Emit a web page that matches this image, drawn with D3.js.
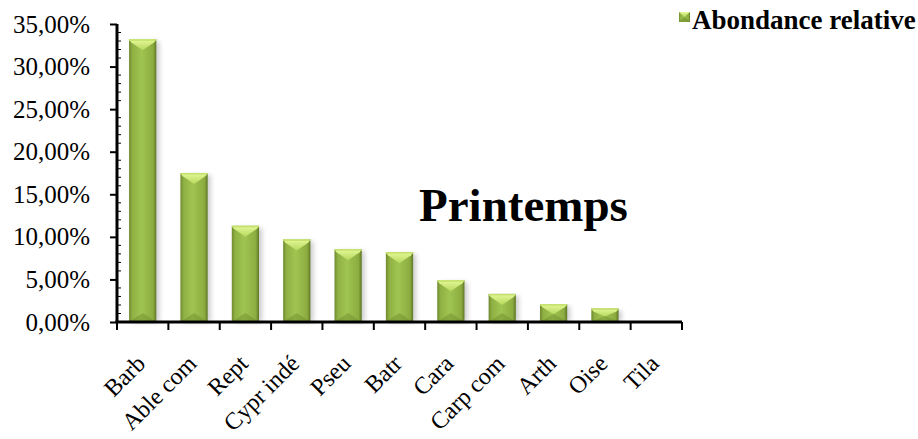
<!DOCTYPE html>
<html lang="fr">
<head>
<meta charset="UTF-8">
<title>Printemps - Abondance relative</title>
<style>
    body { margin: 0; background: #fff; overflow: hidden; }
    svg { display: block; }
    text { font-family: "Liberation Serif", "Times New Roman", serif; fill: #000; }
</style>
<script src="https://d3js.org/d3.v7.min.js"></script>
</head>
<body>
<svg></svg>
<script>
    const width = 918;
    const height = 439;

    // data
    const categories = ["Barb", "Able com", "Rept", "Cypr indé", "Pseu", "Batr", "Cara", "Carp com", "Arth", "Oise", "Tila"];
    const abondance = [33.2, 17.5, 11.3, 9.7, 8.55, 8.2, 4.9, 3.3, 2.1, 1.6, 0];
    const yTicks = [0, 5, 10, 15, 20, 25, 30, 35];
    const seriesName = "Abondance relative";
    const title = "Printemps";

    const margin = { top: 24, right: 236, bottom: 117, left: 117 };
    const innerW = width - margin.left - margin.right;
    const innerH = height - margin.top - margin.bottom;
    const serif = "'Liberation Serif', 'Times New Roman', serif";

    const svg = d3.select("svg")
        .attr("width", width)
        .attr("height", height);

    const defs = svg.append("defs");

    // horizontal shading of the bar body
    const body = defs.append("linearGradient").attr("id", "barBody")
        .attr("x1", "0%").attr("x2", "100%").attr("y1", "0%").attr("y2", "0%");
    body.append("stop").attr("offset", "0%").attr("stop-color", "#6f8a2f");
    body.append("stop").attr("offset", "12%").attr("stop-color", "#8fb043");
    body.append("stop").attr("offset", "45%").attr("stop-color", "#a0c452");
    body.append("stop").attr("offset", "88%").attr("stop-color", "#8cac40");
    body.append("stop").attr("offset", "100%").attr("stop-color", "#5f7826");

    const topBevel = defs.append("linearGradient").attr("id", "barTop")
        .attr("x1", "0%").attr("x2", "0%").attr("y1", "0%").attr("y2", "100%");
    topBevel.append("stop").attr("offset", "0%").attr("stop-color", "#e6f99a");
    topBevel.append("stop").attr("offset", "100%").attr("stop-color", "#b6d85c");

    defs.append("filter").attr("id", "shadow")
        .attr("x", "-50%").attr("y", "-10%").attr("width", "200%").attr("height", "120%")
        .append("feGaussianBlur").attr("stdDeviation", 2.5);

    const x = d3.scaleBand()
        .domain(categories)
        .range([0, innerW])
        .paddingInner(0.47)
        .paddingOuter(0.235);

    const y = d3.scaleLinear()
        .domain([0, 35])
        .range([innerH, 0]);

    const g = svg.append("g").attr("transform", `translate(${margin.left},${margin.top})`);

    // bars
    const data = categories.map((c, i) => ({ cat: c, v: abondance[i] }));
    const bars = g.append("g").selectAll("g").data(data.filter(d => d.v > 0)).join("g");

    bars.append("rect")
        .attr("x", d => x(d.cat) + 3)
        .attr("y", d => y(d.v) + 2)
        .attr("width", x.bandwidth())
        .attr("height", d => innerH - y(d.v) - 2)
        .attr("fill", "#000")
        .attr("opacity", 0.2)
        .attr("filter", "url(#shadow)");

    bars.append("rect")
        .attr("x", d => x(d.cat))
        .attr("y", d => y(d.v))
        .attr("width", x.bandwidth())
        .attr("height", d => innerH - y(d.v))
        .attr("fill", "url(#barBody)");

    const bev = d => Math.min(9, (innerH - y(d.v)) / 2.2);

    // bottom dark bevel
    bars.append("path")
        .attr("d", d => {
            const x0 = x(d.cat), w = x.bandwidth(), b = innerH, k = bev(d);
            return `M${x0},${b}L${x0 + w},${b}L${x0 + w / 2},${b - k}Z`;
        })
        .attr("fill", "#6c8a2c")
        .attr("opacity", 0.45);

    // top light bevel
    bars.append("path")
        .attr("d", d => {
            const x0 = x(d.cat), w = x.bandwidth(), t = y(d.v), k = bev(d);
            return `M${x0},${t}L${x0 + w},${t}L${x0 + w - 2},${t + 3}L${x0 + w / 2},${t + k + 2}L${x0 + 2},${t + 3}Z`;
        })
        .attr("fill", "url(#barTop)");

    bars.append("rect")
        .attr("x", d => x(d.cat))
        .attr("y", d => y(d.v))
        .attr("width", x.bandwidth())
        .attr("height", 1.5)
        .attr("fill", "#c3e06a");

    // y axis
    const yAxis = g.append("g")
        .call(d3.axisLeft(y).tickValues(yTicks).tickSize(7).tickPadding(20)
            .tickFormat(d => d3.format(".2f")(d).replace(".", ",") + "%"));
    yAxis.attr("font-family", null).attr("font-size", null);
    yAxis.select(".domain").attr("stroke", "#000").attr("stroke-width", 3)
        .attr("d", `M0,${innerH}V0`);
    yAxis.selectAll(".tick line").attr("stroke", "#000").attr("stroke-width", 2);
    yAxis.selectAll(".tick text")
        .style("font-family", serif)
        .style("font-size", "25px");

    // minor ticks (1 %)
    g.append("g").selectAll("line")
        .data(d3.range(0, 36).filter(v => v % 5 !== 0))
        .join("line")
        .attr("x1", 1).attr("x2", 4)
        .attr("y1", d => y(d)).attr("y2", d => y(d))
        .attr("stroke", "#000").attr("stroke-width", 1);

    // x axis
    const xAxisG = g.append("g").attr("transform", `translate(0,${innerH})`);
    xAxisG.append("line")
        .attr("x1", -1.5).attr("x2", innerW)
        .attr("stroke", "#000").attr("stroke-width", 3);
    xAxisG.selectAll(".xtick")
        .data(d3.range(0, categories.length + 1))
        .join("line")
        .attr("x1", i => i * innerW / categories.length)
        .attr("x2", i => i * innerW / categories.length)
        .attr("y1", 0).attr("y2", 8)
        .attr("stroke", "#000").attr("stroke-width", 2);

    xAxisG.selectAll(".xlab")
        .data(categories)
        .join("text")
        .attr("text-anchor", "end")
        .style("font-family", serif)
        .style("font-size", "24px")
        .attr("transform", d => `translate(${x(d) + x.bandwidth() / 2 + 4},${43}) rotate(-45)`)
        .text(d => d);

    // title
    svg.append("text")
        .attr("x", 419)
        .attr("y", 221)
        .style("font-family", serif)
        .style("font-size", "47px")
        .attr("font-weight", "bold")
        .text(title);

    // legend
    const lg = svg.append("g").attr("transform", "translate(679,12)");
    lg.append("rect").attr("width", 11).attr("height", 10).attr("fill", "url(#barBody)");
    lg.append("path").attr("d", "M0,0L11,0L5.5,5Z").attr("fill", "url(#barTop)");
    lg.append("path").attr("d", "M0,10L11,10L5.5,5Z").attr("fill", "#6c8a2c").attr("opacity", 0.6);
    lg.append("text")
        .attr("x", 13)
        .attr("y", 17)
        .style("font-family", serif)
        .style("font-size", "27px")
        .attr("font-weight", "bold")
        .text(seriesName);
</script>
</body>
</html>
